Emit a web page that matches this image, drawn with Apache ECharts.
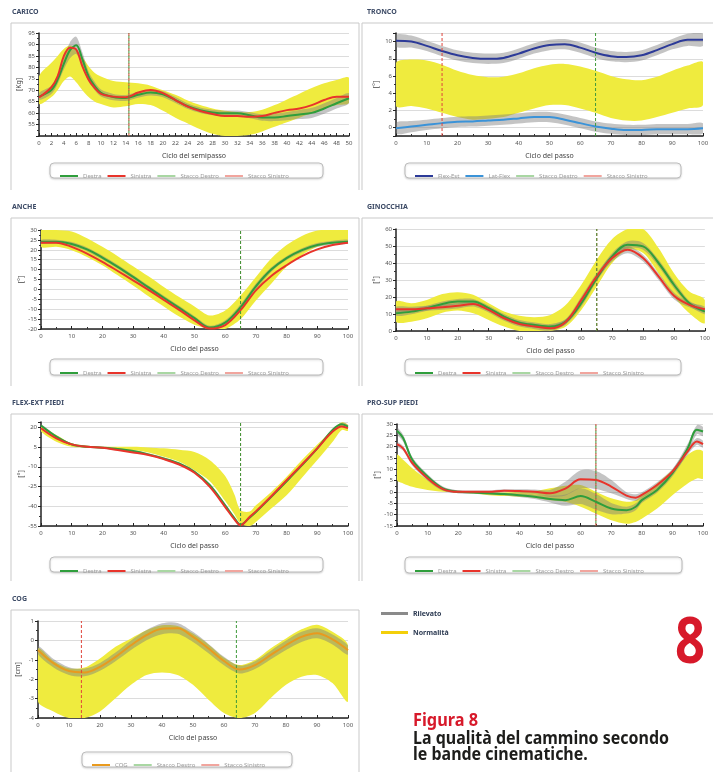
<!DOCTYPE html>
<html>
<head>
<meta charset="utf-8">
<script src="https://cdn.jsdelivr.net/npm/echarts@6/dist/echarts.min.js"></script>
<style>
  html, body { margin: 0; padding: 0; background: #fff; }
  #c { width: 713px; height: 772px; }
</style>
</head>
<body>
<div id="c"></div>
<script>
// ---------- CARICO (0..50 semipasso, kg) ----------
const caricoX   = [0,2,3,4,5,6,7,8,9,10,12,14,16,18,20,22,24,26,28,30,32,34,36,38,40,42,44,46,48,50];
const caricoDx  = [67.2,70.1,74.6,81.5,87.5,89.6,83.5,76,71.8,68.8,67,66.6,68,69,68.2,65.7,63,61.3,60.3,59.9,59.9,59.1,58.1,58.1,58.7,59.4,60.1,62,64.3,66.5];
const caricoSx  = [66.8,71.3,76,84.9,88.6,87.8,80.4,74.6,70.9,68.4,67.2,66.9,69,70.1,68.7,65.7,62.8,60.9,59.6,58.7,58.7,58.4,58.7,60.1,61.3,62,63.5,65.7,67.2,67.2];
const caricoSd  = [1.5,1.8,2,2.5,3.5,3.8,3,2.2,1.8,1.5,1.4,1.3,1.3,1.3,1.3,1.3,1.2,1.2,1.2,1.2,1.2,1.3,1.4,1.6,1.8,2,2.2,2.3,2.3,2.2];
const caricoNLo = [64,67,70,74,76,73.5,70,67,65,64,62.5,63,64,63.5,61,58,55.5,53,51,50,50,50.5,52,54,56,58,60,62,63.5,64.5];
const caricoNHi = [76,82,85,88,89.5,88,84.5,80.5,77.5,76,74,73.5,73,72,70,68,65.5,63.5,62,61,60.5,60.5,61.5,63.5,66,68.5,71,73,74.5,75.5];
const caricoStacco = [14.5, 14.5];

// ---------- TRONCO ----------
const troncoX    = [0,5,10,15,20,25,30,35,40,45,50,55,60,65,70,75,80,85,90,95,100];
const troncoFlex = [10.1,10,9.5,8.9,8.4,8.1,8,8.1,8.6,9.2,9.6,9.7,9.3,8.7,8.3,8.2,8.4,9,9.7,10.2,10.2];
const troncoLat  = [-0.1,0.1,0.3,0.5,0.65,0.7,0.8,0.9,1.05,1.2,1.2,0.9,0.5,0.1,-0.15,-0.3,-0.3,-0.2,-0.2,-0.2,-0.1];
const troncoFlexSd = [0.7,0.7,0.6,0.6,0.6,0.6,0.6,0.6,0.6,0.6,0.6,0.6,0.6,0.6,0.6,0.6,0.6,0.6,0.6,0.7,0.7];
const troncoLatSd  = [0.65,0.65,0.6,0.6,0.6,0.6,0.6,0.6,0.6,0.6,0.6,0.6,0.6,0.6,0.6,0.6,0.6,0.6,0.6,0.6,0.6];
const troncoNLo  = [2.5,2.5,2.2,1.7,1.2,0.9,1,1.2,1.7,2.2,2.6,2.6,2.2,1.7,1.1,0.8,0.8,1.2,1.7,2.2,2.6];
const troncoNHi  = [7.5,7.9,7.8,7.3,6.6,6.1,5.85,5.9,6.3,6.9,7.3,7.4,7.1,6.6,6,5.6,5.5,5.9,6.6,7.2,7.6];
const troncoStacco = [65, 15];

// ---------- ANCHE ----------
const ancheX   = [0,5,10,15,20,25,30,35,40,45,50,55,60,65,70,75,80,85,90,95,100];
const ancheDx  = [24.1,24.1,22.9,20.2,16.1,11.4,6.3,1,-4.2,-9.3,-14.5,-19.3,-16.8,-9,1.5,10,15.8,19.8,22.4,23.6,24.1];
const ancheSx  = [23.6,23.6,21.5,18.1,13.9,9.3,4.6,-0.2,-5.3,-10.3,-15.6,-19.8,-18,-10.5,-0.5,6.8,12.2,16.8,20.2,22.4,23.6];
const ancheSd  = [1,1,1,1,1,1,1,1,1,1,1,1,1.2,1.5,1.5,1.2,1,1,1,1,1];
const ancheNLo = [21.5,21.5,19.8,16.4,12.2,7.1,2,-3.4,-8.6,-13.7,-17.8,-20,-20,-15,-5.6,2.9,11.4,17.3,21.5,23.2,23.6];
const ancheNHi = [30,30,29.2,25.8,21.5,16.8,11.7,6.6,1.2,-3.9,-8.6,-13.2,-10.7,-3.1,6.3,15.6,22.4,27,29.7,30,30];
const ancheStacco = [65, 65];

// ---------- GINOCCHIA ----------
const ginX   = [0,5,10,15,20,25,30,35,40,45,50,55,60,65,70,75,80,85,90,95,100];
const ginDx  = [10.4,11.4,13.4,15.9,17.3,17.3,13.4,8.5,4.9,3.5,2.6,5.5,16.3,31.1,43.9,50.8,49.8,40,27.2,16.3,11.4];
const ginSx  = [12.8,12.8,13.4,14,14.8,15.9,12.4,7.5,4.1,2.6,1.6,5.5,18.3,32.1,42.9,47.8,42.9,32.1,20.7,15.4,12.8];
const ginSd  = [1.5,1.5,1.5,1.5,1.5,1.5,1.5,1.5,1.5,1.5,1.5,1.5,2,2,2,2,2,2,2,1.5,1.5];
const ginNLo = [5.5,5.5,7.5,10.8,12,10.4,6.5,2.6,0,0,0,2.6,12.4,26.2,40,47.8,45.9,34,20.3,10.4,4.5];
const ginNHi = [17.3,16.3,18.3,21.7,22.8,21.3,16.3,11.4,8.9,8.1,9.4,15.4,27.2,41.9,54.1,60,60,48.8,34,23.2,18.3];
const ginStacco = [65, 65];

// ---------- FLEX-EXT PIEDI ----------
const flexX   = [0,5,10,15,20,25,30,35,40,45,50,55,60,63,65,68,70,75,80,85,90,95,98,100];
const flexDx  = [21.3,12.9,7,5.2,4.5,3.5,1.9,-0.6,-3.7,-7.5,-13.8,-24,-39.3,-49,-54,-48.5,-44.4,-32.9,-21,-8.8,4,18,22.3,20.5];
const flexSx  = [19.3,11.6,7,5.2,4.5,2.7,0.9,-1.1,-4.2,-8.3,-14.6,-25.3,-40.6,-50,-54.5,-48,-43.9,-32.4,-20.2,-8.3,4,16.7,20.5,19.3];
const flexSd  = [1,1,0.8,0.8,0.8,0.8,0.8,0.8,0.8,0.8,1,1,1,1,1,1,1,1,1,1,1,1,1.2,1.2];
const flexNLo = [16.7,9,5.2,4.5,4,3.2,2.7,0.9,-2.4,-6.2,-12.6,-21,-36,-46,-53.2,-55,-52,-41.8,-31.7,-18.3,-4.9,9,18,17.2];
const flexNHi = [20.5,14.1,7.8,6,5.2,5.2,5.2,4.7,4,2.9,1.2,-5,-17,-31,-43,-44,-39.3,-29.1,-17.6,-4.9,7,18,23.8,21.8];
const flexStacco = [65, 65];

// ---------- PRO-SUP PIEDI ----------
const proX    = [0,2,5,10,15,20,25,30,35,40,45,50,55,60,65,70,75,78,80,85,90,95,98,100];
const proDx   = [27,23.8,14.2,6.8,1.6,0.1,-0.2,-0.6,-0.9,-1.4,-2.1,-3.1,-3.6,-1.8,-4.3,-7.3,-8,-6.5,-3.6,0.9,8.3,19.3,27.5,26.7];
const proSx   = [21.1,19.3,12.7,6,1.3,0.1,0.1,0.1,0.6,0.4,0.1,-0.6,1.5,5.6,5.3,2.4,-1.6,-2.5,-1.3,3.1,9,17.9,22.3,21.1];
const proDxSd = [1.5,1.5,1.2,1,0.8,0.6,0.6,0.6,0.6,0.8,1,1.5,2.5,3.5,3.5,2.5,1.5,1.5,1.2,1.2,1.5,2,2,2];
const proSxSd = [1,1,1,1,0.8,0.6,0.6,0.6,0.6,0.8,1,1.5,3,4,4,3,1.5,1.5,1.2,1.2,1.2,1.5,1.5,1.5];
const proNLo  = [5.3,3.8,2.3,0.9,0.1,-0.2,-0.6,-1.4,-1.8,-2.1,-2.5,-3.6,-4.3,-6.5,-9.5,-12.5,-14,-13.2,-11.8,-7.3,-1.4,3.8,6,6];
const proNHi  = [16.4,14.2,10.5,5.3,1.6,0.1,0.1,-0.2,-0.2,0.1,0.4,1.6,2.8,3.1,0.1,-2.8,-4.3,-3.6,-1.4,3.8,9.7,16.4,18.6,17.9];
const proStacco = [65, 65];

// ---------- COG ----------
const cogX   = [0,5,10,15,20,25,30,35,40,45,50,55,60,65,70,75,80,85,90,95,100];
const cogV   = [-0.5,-1.18,-1.58,-1.65,-1.36,-0.85,-0.25,0.27,0.6,0.62,0.18,-0.42,-1.06,-1.5,-1.27,-0.76,-0.25,0.18,0.37,0.05,-0.5];
const cogSd  = [0.22,0.22,0.2,0.2,0.2,0.22,0.24,0.26,0.28,0.28,0.26,0.24,0.22,0.2,0.2,0.22,0.24,0.26,0.26,0.26,0.24];
const cogNLo = [-3.15,-3.66,-4,-4,-3.66,-2.98,-2.29,-1.78,-1.65,-1.78,-2.29,-3.06,-3.74,-4,-3.74,-2.98,-2.29,-1.87,-1.78,-2.2,-3.15];
const cogNHi = [-0.42,-1.06,-1.44,-1.4,-0.93,-0.33,0.1,0.52,0.78,0.74,0.35,-0.21,-0.89,-1.27,-1.01,-0.42,0.1,0.57,0.81,0.44,-0.25];
const cogStacco = [64, 14];

// ---------- styling ----------
const FONT = '"Noto Sans", Roboto, sans-serif';
const COL = {
  yellow: '#efeb3e', grey: 'rgba(125,125,125,0.45)',
  green: '#2f9e3c', red: '#e8342b', blue: '#2c3a98', lblue: '#3b93d8', orange: '#e99a1e',
  sdx: '#3f9a3a', ssx: '#e0443a', sdxLeg: '#a9d7a3', ssxLeg: '#f1a59e'
};

// filled band between lo and hi, one smoothed polygon placed through the axes
function band(name, xs, lo, hi, gi, color, z) {
  return {
    type: 'custom', name: name, xAxisIndex: gi, yAxisIndex: gi, silent: true, z: z,
    itemStyle: { color: color },
    data: xs.map((x, i) => [x, lo[i], hi[i]]),
    encode: { x: 0, y: [1, 2] },
    renderItem: function (params, api) {
      if (params.dataIndex !== 0) return null;
      const top = xs.map((x, i) => api.coord([x, hi[i]]));
      const bot = xs.map((x, i) => api.coord([x, lo[i]])).reverse();
      const cs = params.coordSys;
      return {
        type: 'polygon',
        shape: { points: top.concat(bot), smooth: 0.3 },
        style: { fill: color, stroke: null },
        clipPath: { type: 'rect', shape: { x: cs.x, y: cs.y, width: cs.width, height: cs.height } }
      };
    }
  };
}
function greyBand(xs, v, sd, gi) {
  return band('Rilevato', xs, v.map((a, i) => a - sd[i]), v.map((a, i) => a + sd[i]), gi, COL.grey, 3);
}
function curve(name, xs, ys, gi, color) {
  return { type: 'line', name: name, xAxisIndex: gi, yAxisIndex: gi, smooth: 0.35, symbol: 'none',
    lineStyle: { color: color, width: 2 }, itemStyle: { color: color },
    data: xs.map((x, i) => [x, ys[i]]), z: 5 };
}
function stacco(name, x, gi, color, lo, hi, off) {
  return { type: 'line', name: name, xAxisIndex: gi, yAxisIndex: gi, symbol: 'none', silent: true,
    lineStyle: { color: color, width: 1, type: [3, 2], dashOffset: off }, itemStyle: { color: color },
    data: [[x, lo], [x, hi]], z: 6 };
}

const grids = [
  { left: 39,  top: 33,  width: 310, height: 103 },
  { left: 396, top: 33,  width: 307, height: 103 },
  { left: 41,  top: 230, width: 307, height: 99 },
  { left: 396, top: 229, width: 309, height: 102 },
  { left: 41,  top: 422, width: 307, height: 104 },
  { left: 397, top: 424, width: 306, height: 102 },
  { left: 38,  top: 621, width: 310, height: 97 }
];

function axisDark() { return { onZero: false, lineStyle: { color: '#222', width: 1.5 } }; }
function labelStyle(extra) {
  return Object.assign({ fontSize: 6, color: '#555', margin: 4, fontFamily: FONT }, extra || {});
}
function xAx(gi, max, interval, name) {
  return { type: 'value', gridIndex: gi, min: 0, max: max, interval: interval,
    name: name, nameLocation: 'middle', nameGap: 16,
    nameTextStyle: { fontSize: 7, color: '#444', fontFamily: FONT },
    axisLine: axisDark(), axisTick: { show: true, inside: true, length: 3, lineStyle: { color: '#222' } },
    minorTick: { show: true, splitNumber: 2, length: 2, lineStyle: { color: '#333' } },
    axisLabel: labelStyle(), splitLine: { show: false } };
}
function yAx(gi, min, max, interval, name, label) {
  const ax = { type: 'value', gridIndex: gi, min: min, max: max,
    name: name, nameLocation: 'middle', nameGap: 17, nameRotate: 90,
    nameTextStyle: { fontSize: 7, color: '#444', fontFamily: FONT },
    axisLine: Object.assign({ show: true }, axisDark()),
    axisTick: { show: true, length: 3, lineStyle: { color: '#222' } },
    minorTick: { show: true, splitNumber: 2, length: 2, lineStyle: { color: '#333' } },
    axisLabel: labelStyle(label),
    splitLine: { show: true, lineStyle: { color: '#dcdcdc', width: 1 } } };
  if (interval) ax.interval = interval;
  return ax;
}

const xAxes = [
  xAx(0, 50, 2, 'Ciclo del semipasso'),
  xAx(1, 100, 10, 'Ciclo del passo'),
  xAx(2, 100, 10, 'Ciclo del passo'),
  xAx(3, 100, 10, 'Ciclo del passo'),
  xAx(4, 100, 10, 'Ciclo del passo'),
  xAx(5, 100, 10, 'Ciclo del passo'),
  xAx(6, 100, 10, 'Ciclo del passo')
];
const yAxes = [
  yAx(0, 50, 95, 5, '[Kg]', { showMinLabel: false }),
  yAx(1, -1, 11, null, '[°]', { showMinLabel: false, showMaxLabel: false,
    formatter: v => (Math.round(v) === v && v % 2 === 0) ? String(v) : '' }),
  yAx(2, -20, 30, 5, '[°]'),
  yAx(3, 0, 60, 10, '[°]'),
  yAx(4, -55, 24, 15, '[°]', { showMaxLabel: false }),
  yAx(5, -15, 30, 5, '[°]'),
  yAx(6, -4, 1, 1, '[cm]')
];

const series = [
  // CARICO
  band('Normalità', caricoX, caricoNLo, caricoNHi, 0, COL.yellow, 2),
  greyBand(caricoX, caricoDx, caricoSd, 0),
  curve('Destra', caricoX, caricoDx, 0, COL.green),
  curve('Sinistra', caricoX, caricoSx, 0, COL.red),
  stacco('Stacco Sinistro', caricoStacco[1], 0, COL.ssx, 50, 95, 0),
  stacco('Stacco Destro', caricoStacco[0], 0, COL.sdx, 50, 95, 2.5),
  // TRONCO
  band('Normalità', troncoX, troncoNLo, troncoNHi, 1, COL.yellow, 2),
  greyBand(troncoX, troncoFlex, troncoFlexSd, 1),
  greyBand(troncoX, troncoLat, troncoLatSd, 1),
  curve('Flex-Est', troncoX, troncoFlex, 1, COL.blue),
  curve('Lat-Flex', troncoX, troncoLat, 1, COL.lblue),
  stacco('Stacco Destro', troncoStacco[0], 1, COL.sdx, -1, 11, 0),
  stacco('Stacco Sinistro', troncoStacco[1], 1, COL.ssx, -1, 11, 0),
  // ANCHE
  band('Normalità', ancheX, ancheNLo, ancheNHi, 2, COL.yellow, 2),
  greyBand(ancheX, ancheDx, ancheSd, 2),
  curve('Destra', ancheX, ancheDx, 2, COL.green),
  curve('Sinistra', ancheX, ancheSx, 2, COL.red),
  stacco('Stacco Sinistro', ancheStacco[1], 2, COL.ssx, -20, 30, 0),
  stacco('Stacco Destro', ancheStacco[0], 2, COL.sdx, -20, 30, 0),
  // GINOCCHIA
  band('Normalità', ginX, ginNLo, ginNHi, 3, COL.yellow, 2),
  greyBand(ginX, ginDx, ginSd, 3),
  greyBand(ginX, ginSx, ginSd, 3),
  curve('Destra', ginX, ginDx, 3, COL.green),
  curve('Sinistra', ginX, ginSx, 3, COL.red),
  stacco('Stacco Sinistro', ginStacco[1], 3, COL.ssx, 0, 60, 0),
  stacco('Stacco Destro', ginStacco[0], 3, COL.sdx, 0, 60, 0),
  // FLEX-EXT PIEDI
  band('Normalità', flexX, flexNLo, flexNHi, 4, COL.yellow, 2),
  greyBand(flexX, flexDx, flexSd, 4),
  curve('Destra', flexX, flexDx, 4, COL.green),
  curve('Sinistra', flexX, flexSx, 4, COL.red),
  stacco('Stacco Sinistro', flexStacco[1], 4, COL.ssx, -55, 24, 0),
  stacco('Stacco Destro', flexStacco[0], 4, COL.sdx, -55, 24, 0),
  // PRO-SUP PIEDI
  band('Normalità', proX, proNLo, proNHi, 5, COL.yellow, 2),
  greyBand(proX, proDx, proDxSd, 5),
  greyBand(proX, proSx, proSxSd, 5),
  curve('Destra', proX, proDx, 5, COL.green),
  curve('Sinistra', proX, proSx, 5, COL.red),
  stacco('Stacco Sinistro', proStacco[1], 5, COL.ssx, -15, 30, 0),
  stacco('Stacco Destro', proStacco[0], 5, COL.sdx, -15, 30, 2.5),
  // COG
  band('Normalità', cogX, cogNLo, cogNHi, 6, COL.yellow, 2),
  greyBand(cogX, cogV, cogSd, 6),
  curve('COG', cogX, cogV, 6, COL.orange),
  stacco('Stacco Destro', cogStacco[0], 6, COL.sdx, -4, 1, 0),
  stacco('Stacco Sinistro', cogStacco[1], 6, COL.ssx, -4, 1, 0)
];

// per-panel legends: fixed-width entries, line-like icons
function panelLegend(items, left, top, textW, gap) {
  return { left: left, top: top, orient: 'horizontal', width: 300, itemWidth: 18, itemHeight: 2, itemGap: gap,
    textStyle: { fontSize: 6, color: '#9a9a9a', fontFamily: FONT, width: textW },
    data: items.map(it => ({ name: it[0], icon: 'rect', itemStyle: { color: it[1] } })) };
}
const lrItems = [['Destra', COL.green], ['Sinistra', COL.red], ['Stacco Destro', COL.sdxLeg], ['Stacco Sinistro', COL.ssxLeg]];
const legends = [
  panelLegend(lrItems, 55, 168, 38, 6),
  panelLegend([['Flex-Est', COL.blue], ['Lat-Flex', COL.lblue], ['Stacco Destro', COL.sdxLeg], ['Stacco Sinistro', COL.ssxLeg]], 410, 168, 39, 6),
  panelLegend(lrItems, 55, 365, 38, 6),
  panelLegend(lrItems, 410, 365, 39, 6),
  panelLegend(lrItems, 55, 563, 38, 6),
  panelLegend(lrItems, 410, 563, 39, 6),
  panelLegend([['COG', COL.orange], ['Stacco Destro', COL.sdxLeg], ['Stacco Sinistro', COL.ssxLeg]], 87, 757, 42, 6),
  { left: 376, top: 605, orient: 'vertical', itemWidth: 27, itemHeight: 3, itemGap: 12, icon: 'rect',
    textStyle: { fontSize: 7, fontWeight: 'bold', color: '#2c3a52', fontFamily: FONT },
    data: [ { name: 'Rilevato', itemStyle: { color: '#8a8a8a' } },
            { name: 'Normalità', itemStyle: { color: '#f3cf0a' } } ] }
];

// panel frames, titles and legend boxes
const titles = [['CARICO', 12, 13], ['TRONCO', 367, 13], ['ANCHE', 12, 208], ['GINOCCHIA', 367, 208],
                ['FLEX-EXT PIEDI', 12, 404], ['PRO-SUP PIEDI', 367, 404], ['COG', 12, 600]];
const frames = [[11, 23, 359, 190], [362, 23, 716, 190], [11, 218, 359, 386], [362, 218, 716, 386],
                [11, 414, 359, 581], [362, 414, 716, 581], [11, 610, 359, 775]];
const legendBoxes = [[50, 163, 273, 15], [405, 163, 276, 15], [50, 359, 273, 16], [405, 359, 276, 16],
                     [50, 557, 273, 15], [405, 557, 277, 16], [82, 752, 210, 15]];
const graphic = [];
frames.forEach(f => graphic.push({ type: 'polyline', silent: true,
  shape: { points: [[f[0], f[3]], [f[0], f[1]], [f[2], f[1]], [f[2], f[3]]] },
  style: { stroke: '#c9c9c9', lineWidth: 1, fill: null } }));
titles.forEach(t => graphic.push({ type: 'text', left: t[1], top: t[2] - 5, silent: true,
  style: { text: t[0], font: 'bold 7px ' + FONT, fill: '#3d4b66' } }));
legendBoxes.forEach(b => graphic.push({ type: 'rect', silent: true, z: -1,
  shape: { x: b[0], y: b[1], width: b[2], height: b[3], r: 4 },
  style: { fill: '#fff', stroke: '#bdbdbd', lineWidth: 1, shadowBlur: 2, shadowColor: 'rgba(0,0,0,0.15)', shadowOffsetY: 1 } }));
graphic.push({ type: 'text', x: 675, y: 613, scaleX: 0.82, silent: true,
  style: { text: '8', font: 'bold 64px ' + FONT, fill: '#d7192a' } });
graphic.push({ type: 'text', x: 413, y: 713, scaleX: 0.96, silent: true,
  style: { text: 'Figura 8', font: 'bold 17px ' + FONT, fill: '#d7192a' } });
graphic.push({ type: 'text', x: 413, y: 731, scaleX: 0.94, silent: true,
  style: { text: 'La qualità del cammino secondo\nle bande cinematiche.', font: 'bold 17px ' + FONT,
           fill: '#1d1d1b', lineHeight: 16 } });

const chart = echarts.init(document.getElementById('c'), null, { renderer: 'canvas' });
chart.setOption({
  animation: false,
  backgroundColor: '#fff',
  grid: grids,
  xAxis: xAxes,
  yAxis: yAxes,
  legend: legends,
  series: series,
  graphic: graphic
});
</script>
</body>
</html>
